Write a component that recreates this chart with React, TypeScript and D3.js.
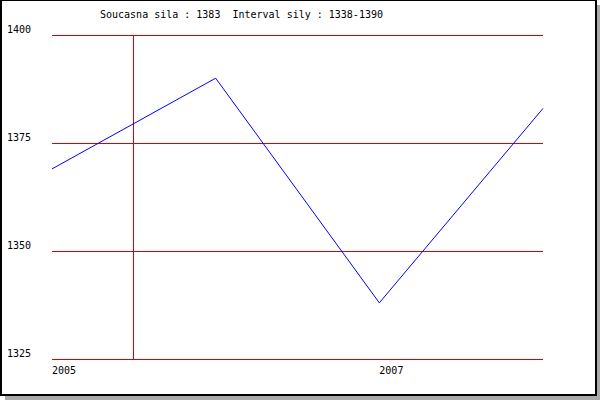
import React from "react";
import * as d3 from "d3";

const periods = ["2005", "2006", "2007", "2008"];
const shownLabels = ["2005", "2007"];
const values = [1369, 1390, 1338, 1383];
const yTicks = [1325, 1350, 1375, 1400];
const markerPosition = [0.5];
const title = "Soucasna sila : 1383  Interval sily : 1338-1390";

export default function App() {
  const W = 600;
  const H = 400;
  const x = d3.scaleLinear().domain([0, periods.length - 1]).range([52, 543]);
  const y = d3.scaleLinear().domain([1325, 1400]).range([359, 35]);
  const line = d3
    .line<number>()
    .x((_, i) => x(i))
    .y((d) => y(d));
  const font = "'DejaVu Sans Mono', monospace";
  return (
    <svg
      width={W}
      height={H}
      style={{ position: "absolute", left: 0, top: 0, display: "block" }}
    >
      <rect x={5} y={5} width={595} height={395} fill="#aaaaaa" />
      <rect x={0} y={0} width={597} height={396} fill="#000" />
      <rect x={2} y={1} width={593} height={393} fill="#fff" />
      <text
        x={100}
        y={18}
        fontFamily={font}
        fontSize={10}
        fill="#000"
        style={{ whiteSpace: "pre" }}
        xmlSpace="preserve"
      >
        {title}
      </text>
      {yTicks.map((t) => (
        <g key={t}>
          <line
            x1={x(0)}
            x2={x(periods.length - 1)}
            y1={Math.round(y(t)) + 0.5}
            y2={Math.round(y(t)) + 0.5}
            stroke="#e00000"
            strokeWidth={1}
          />
          <text x={7} y={Math.round(y(t)) - 2} fontFamily={font} fontSize={10} fill="#000">
            {t}
          </text>
        </g>
      ))}
      {markerPosition.map((m, i) => (
        <line
          key={i}
          x1={Math.floor(x(m)) + 0.5}
          x2={Math.floor(x(m)) + 0.5}
          y1={y(1400)}
          y2={y(1325)}
          stroke="#e00000"
          strokeWidth={1}
        />
      ))}
      {periods.map((p, i) =>
        shownLabels.includes(p) ? (
          <text key={p} x={x(i)} y={374} fontFamily={font} fontSize={10} fill="#000">
            {p}
          </text>
        ) : null
      )}
      <path d={line(values) || ""} fill="none" stroke="#0000ff" strokeWidth={1} />
    </svg>
  );
}
